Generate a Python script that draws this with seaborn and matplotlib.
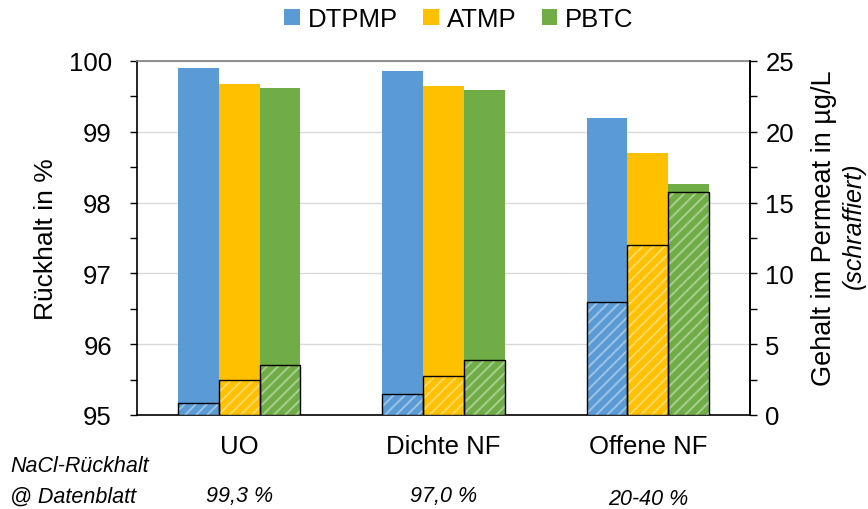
import matplotlib
matplotlib.use("Agg")
import matplotlib.pyplot as plt
from matplotlib.patches import Rectangle
from matplotlib.ticker import MultipleLocator
import seaborn as sns
import pandas as pd

categories = ["UO", "Dichte NF", "Offene NF"]
series = ["DTPMP", "ATMP", "PBTC"]
colors = ["#5B9BD5", "#FFC000", "#70AD47"]

rueckhalt_dtpmp = [99.90, 99.86, 99.20]
rueckhalt_atmp = [99.68, 99.65, 98.70]
rueckhalt_pbtc = [99.62, 99.59, 98.26]

gehalt_dtpmp = [0.85, 1.47, 8.0]
gehalt_atmp = [2.45, 2.78, 12.0]
gehalt_pbtc = [3.55, 3.85, 15.75]

nacl_labels = ["99,3 %", "97,0 %", "20-40 %"]

plt.rcParams["font.family"] = ["Liberation Sans", "DejaVu Sans"]
plt.rcParams["hatch.linewidth"] = 1.4

df_r = pd.DataFrame({
    "Kategorie": categories * 3,
    "Serie": [s for s in series for _ in categories],
    "Wert": rueckhalt_dtpmp + rueckhalt_atmp + rueckhalt_pbtc,
})
df_g = pd.DataFrame({
    "Kategorie": categories * 3,
    "Serie": [s for s in series for _ in categories],
    "Wert": gehalt_dtpmp + gehalt_atmp + gehalt_pbtc,
})

FS = 18.5

fig = plt.figure(figsize=(8.68, 5.10), dpi=100)
ax = fig.add_axes([137 / 868, 1 - 416 / 510, (750 - 137) / 868, (416 - 62) / 510])

sns.barplot(data=df_r, x="Kategorie", y="Wert", hue="Serie", order=categories,
            hue_order=series, palette=colors, width=0.6, saturation=1,
            linewidth=0, ax=ax, legend=True, errorbar=None)
ax.set_ylim(95, 100)
ax.set_xlim(-0.5, 2.5)
ax.yaxis.set_major_locator(MultipleLocator(1))
ax.yaxis.set_minor_locator(MultipleLocator(0.5))
ax.grid(axis="y", color="#d9d9d9", linewidth=1)
ax.set_axisbelow(True)
ax.set_xlabel("")
ax.set_ylabel("Rückhalt in %", fontsize=19, labelpad=8)
ax.tick_params(axis="y", which="major", direction="out", length=5, width=1, labelsize=FS, pad=13)
ax.tick_params(axis="y", which="minor", direction="out", length=5, width=1)
ax.tick_params(axis="x", length=0, labelsize=FS, pad=14)
for side in ["left", "bottom", "right"]:
    ax.spines[side].set_color("black")
    ax.spines[side].set_linewidth(1.2)
ax.spines["top"].set_color("#7f7f7f")
ax.spines["top"].set_linewidth(1.2)

handles, labels = ax.get_legend_handles_labels()
ax.get_legend().remove()
fig.legend(handles, labels, loc="center", bbox_to_anchor=(459 / 868, 1 - 20 / 510),
           ncol=3, frameon=False, fontsize=FS, handlelength=0.6, handleheight=0.6,
           handletextpad=0.3, columnspacing=1.0)

ax2 = ax.twinx()
sns.barplot(data=df_g, x="Kategorie", y="Wert", hue="Serie", order=categories,
            hue_order=series, palette=colors, width=0.6, saturation=1,
            linewidth=0, ax=ax2, legend=False, errorbar=None)
for p in list(ax2.patches):
    p.set_hatch("///")
    p.set_edgecolor((1, 1, 1, 0.4))
    p.set_linewidth(0)
    ax2.add_patch(Rectangle(p.get_xy(), p.get_width(), p.get_height(),
                            fill=False, edgecolor="black", linewidth=1.0, zorder=3))
ax2.set_ylim(0, 25)
ax2.set_xlim(-0.5, 2.5)
ax2.yaxis.set_major_locator(MultipleLocator(5))
ax2.yaxis.set_minor_locator(MultipleLocator(2.5))
ax2.tick_params(axis="y", which="major", direction="out", length=5, width=1, labelsize=FS, pad=6)
ax2.tick_params(axis="y", which="minor", direction="out", length=5, width=1)
ax2.set_ylabel("")
ax2.set_xlabel("")
for s in ["top", "bottom", "left"]:
    ax2.spines[s].set_visible(False)
ax2.spines["right"].set_color("black")
ax2.spines["right"].set_linewidth(1.2)

fig.text(824 / 868, 1 - 228 / 510, "Gehalt im Permeat in µg/L", rotation=90,
         ha="center", va="center", fontsize=19.5)
fig.text(854 / 868, 1 - 226 / 510, "(schraffiert)", rotation=90, style="italic",
         ha="center", va="center", fontsize=18)

fig.text(10 / 868, 1 - 467 / 510, "NaCl-Rückhalt", style="italic", ha="left",
         va="center", fontsize=15.5)
fig.text(10 / 868, 1 - 497 / 510, "@ Datenblatt", style="italic", ha="left",
         va="center", fontsize=15.5)
for i, lab in enumerate(nacl_labels):
    xd = ax.transData.transform((i, 0))[0]
    xf = fig.transFigure.inverted().transform((xd, 0))[0]
    fig.text(xf, 1 - (497 + (3 if i == 2 else 0)) / 510, lab, style="italic",
             ha="center", va="center", fontsize=15.5)

fig.savefig("out.png", dpi=100)
